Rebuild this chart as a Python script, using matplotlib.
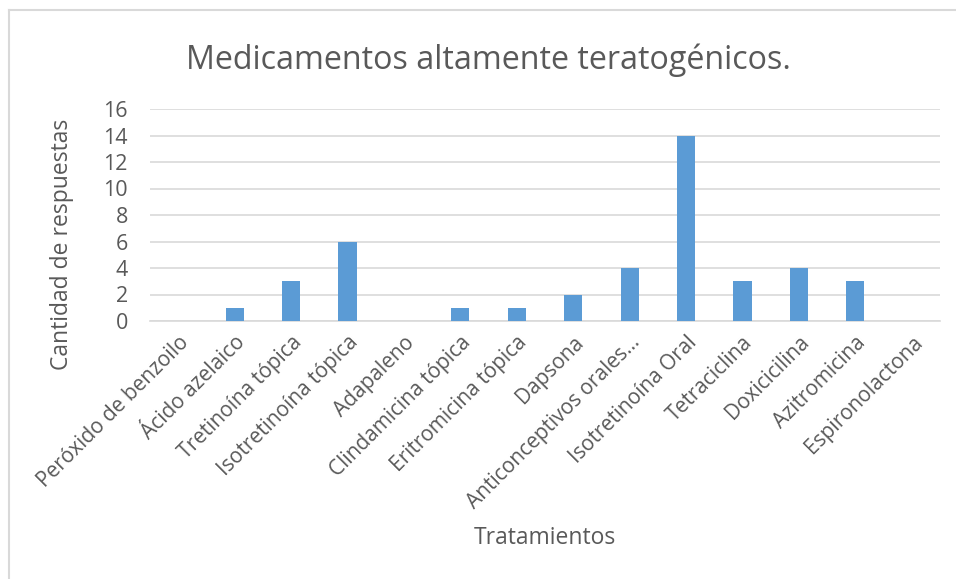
import matplotlib
matplotlib.use("Agg")
import matplotlib.pyplot as plt
from matplotlib.lines import Line2D

categories = ["Peróxido de benzoilo", "Ácido azelaico", "Tretinoína tópica",
              "Isotretinoína tópica", "Adapaleno", "Clindamicina tópica",
              "Eritromicina tópica", "Dapsona", "Anticonceptivos orales…",
              "Isotretinoína Oral", "Tetraciclina", "Doxicicilina",
              "Azitromicina", "Espironolactona"]
values = [0, 1, 3, 6, 0, 1, 1, 2, 4, 14, 3, 4, 3, 0]
yticks = [0, 2, 4, 6, 8, 10, 12, 14, 16]

plt.rcParams['font.family'] = ['Open Sans', 'DejaVu Sans']
txt = '#595959'

fig = plt.figure(figsize=(9.56, 5.79), dpi=100)
ax = fig.add_axes([150/956, 1-321/579, 790/956, 212/579])

x = list(range(len(categories)))
ax.bar(x, values, width=0.32, color='#5b9bd5', zorder=3)
ax.set_xlim(-0.5, len(categories)-0.5)
ax.set_ylim(0, 16)
ax.set_yticks(yticks)
ax.set_yticklabels([str(v) for v in yticks], fontsize=15.5, color=txt)
ax.set_xticks(x)
ax.set_xticklabels(categories, rotation=45, ha='right', va='top',
                   rotation_mode='anchor', fontsize=15, color=txt)
ax.tick_params(axis='y', length=0, pad=16)
ax.tick_params(axis='x', length=0, pad=8)
ax.grid(axis='y', color='#d9d9d9', linewidth=1.2, zorder=0)
for s in ['top', 'right', 'left']:
    ax.spines[s].set_visible(False)
ax.spines['bottom'].set_color('#d9d9d9')
ax.spines['bottom'].set_linewidth(1.2)

fig.text(488/956, 1-60/579, "Medicamentos altamente teratogénicos.",
         ha='center', va='center', fontsize=23.2, color=txt)
fig.text(545/956, 1-538/579, "Tratamientos", ha='center', va='center',
         fontsize=16.5, color=txt)
fig.text(62/956, 1-244/579, "Cantidad de respuestas", ha='center', va='center',
         rotation=90, fontsize=16.5, color=txt)

# chart border (left & top visible)
fig.add_artist(Line2D([9/956, 9/956], [0, 1-10/579], transform=fig.transFigure,
                      color='#d9d9d9', linewidth=1.5))
fig.add_artist(Line2D([9/956, 1], [1-10/579, 1-10/579], transform=fig.transFigure,
                      color='#d9d9d9', linewidth=1.5))

fig.savefig("out.png", dpi=100)
